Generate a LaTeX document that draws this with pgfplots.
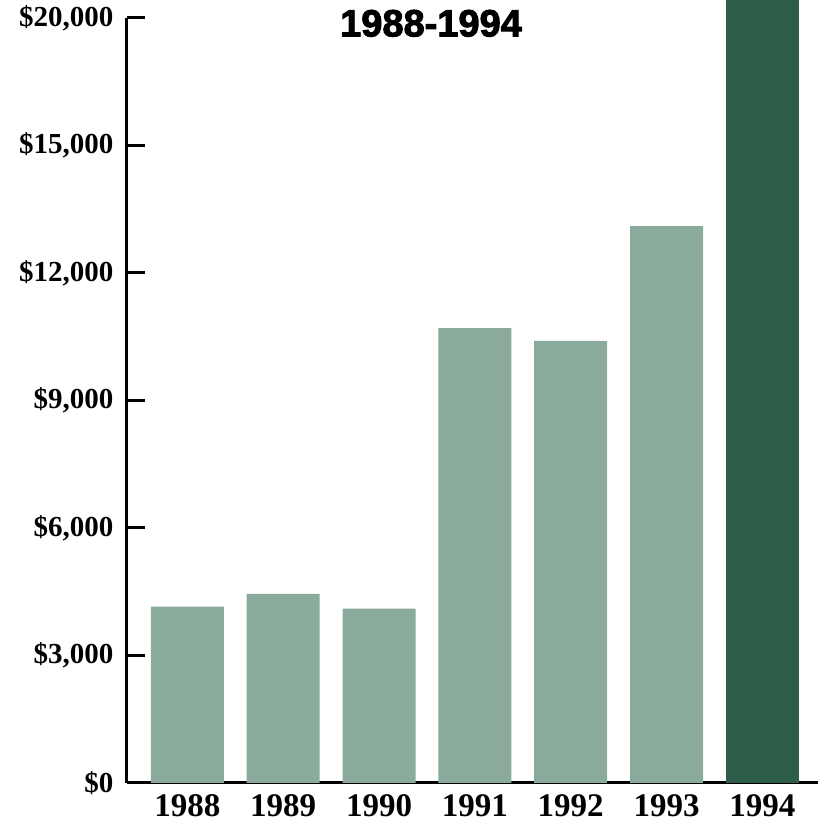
\documentclass[border=0pt]{standalone}
\usepackage{pgfplots}
\pgfplotsset{compat=1.18}
\usepackage{fontspec}
\setmainfont{Liberation Serif}
\newfontfamily\titlefont[FakeBold=2.5]{Liberation Sans Bold}
\definecolor{lightbar}{HTML}{8AAA9C}
\definecolor{darkbar}{HTML}{2D5C49}
\begin{document}
\begin{tikzpicture}
\useasboundingbox (-127pt,-41pt) rectangle (691pt,783pt);
% values in thousands of dollars; the axis above $15,000 is compressed as in the original
\begin{axis}[
  scale only axis,
  width=691pt, height=765pt,
  xmin=-0.63, xmax=6.58,
  ymin=0, ymax=20,
  y coord trafo/.code={\pgfmathparse{min(#1,15)+0.6*max(#1-15,0)}},
  axis x line=bottom, axis y line=left,
  axis line style={-, line width=3pt, black},
  clip=false,
  xtick={0,1,2,3,4,5,6},
  xticklabels={1988,1989,1990,1991,1992,1993,1994},
  major x tick style={draw=none},
  ytick={0,3,6,9,12,15,20},
  yticklabels={{\$0},{\$3,000},{\$6,000},{\$9,000},{\$12,000},{\$15,000},{\$20,000}},
  tick align=inside,
  major tick length=18pt,
  major y tick style={line width=3pt, black},
  yticklabel style={font=\fontsize{29}{30}\selectfont\bfseries, xshift=-10pt},
  xticklabel style={font=\fontsize{33}{34}\selectfont\bfseries, yshift=-8pt},
  /pgf/number format/assume math mode=true,
]
\addplot[ybar, bar width=73pt, fill=lightbar, draw=none, bar shift=0pt]
  coordinates {(0,4.15) (1,4.45) (2,4.10) (3,10.70) (4,10.40) (5,13.10)};
\addplot[ybar, bar width=73pt, fill=darkbar, draw=none, bar shift=0pt]
  coordinates {(6,20.7)};
\node[font=\titlefont\fontsize{38}{40}\selectfont] at (rel axis cs:0.44,0.993) {1988-1994};
\end{axis}
\end{tikzpicture}
\end{document}
